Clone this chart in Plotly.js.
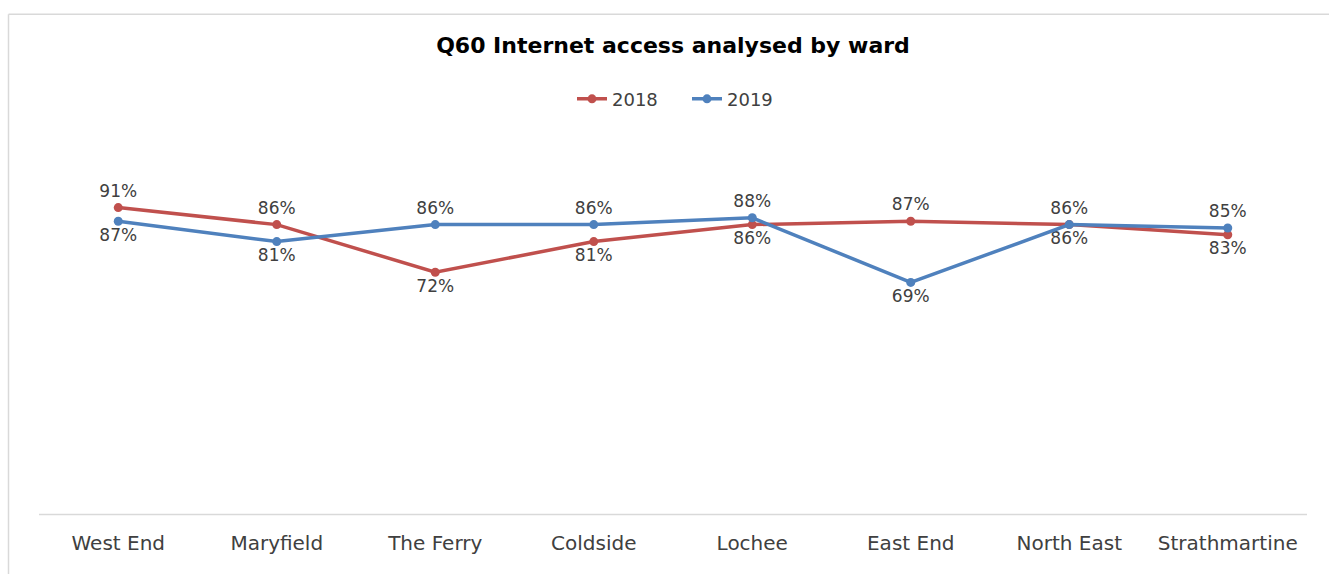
<!DOCTYPE html>
<html>
<head>
<meta charset="utf-8">
<script src="https://cdn.plot.ly/plotly-3.0.1.min.js"></script>
<style>
  html, body { margin: 0; padding: 0; background: #fff; }
  #chart { width: 1329px; height: 574px; }
</style>
</head>
<body>
<div id="chart"></div>
<script>
// ---- data ----
const titleText = 'Q60 Internet access analysed by ward';
const categories = ['West End', 'Maryfield', 'The Ferry', 'Coldside', 'Lochee', 'East End', 'North East', 'Strathmartine'];
const seriesNames = ['2018', '2019'];
const values2018 = [91, 86, 72, 81, 86, 87, 86, 83];
const values2019 = [87, 81, 86, 86, 88, 69, 86, 85];

// ---- layout geometry (pixels) ----
const W = 1329, H = 574;
const plotLeft = 39, plotRight = 1307, plotTop = 177, plotBottom = 517.5;
const axisLineY = 515;
const px2x = p => (p - plotLeft) / (plotRight - plotLeft);
const px2y = p => (plotBottom - p) / (plotBottom - plotTop);

const FONT = 'DejaVu Sans, Verdana, sans-serif';
const red = '#C0504D', blue = '#4F81BD';
const gridGray = '#D9D9D9';

// label above the higher series, below the lower one
const pos2018 = values2018.map((v, i) => v > values2019[i] ? 'top center' : 'bottom center');
const pos2019 = values2019.map((v, i) => v >= values2018[i] ? 'top center' : 'bottom center');

function trace(name, vals, color, pos) {
  return {
    type: 'scatter', mode: 'lines+markers+text', name: name,
    x: categories, y: vals,
    text: vals.map(v => v + '%'),
    textposition: pos,
    textfont: { family: FONT, size: 17, color: '#404040' },
    line: { color: color, width: 3.5 },
    marker: { color: color, size: 9, symbol: 'circle' },
    cliponaxis: false,
    hoverinfo: 'x+y'
  };
}

const data = [
  trace(seriesNames[0], values2018, red, pos2018),
  trace(seriesNames[1], values2019, blue, pos2019)
];

const layout = {
  width: W, height: H,
  margin: { l: plotLeft, r: W - plotRight, t: plotTop, b: H - plotBottom, pad: 0 },
  paper_bgcolor: '#fff', plot_bgcolor: '#fff',
  font: { family: FONT, color: '#404040' },
  title: {
    text: '<b>' + titleText + '</b>',
    font: { family: FONT, size: 22, color: '#000' },
    x: 0.5, xref: 'paper', xanchor: 'center',
    y: 1 - 45 / H, yref: 'container', yanchor: 'middle'
  },
  showlegend: true,
  legend: {
    orientation: 'h', x: px2x(687), xanchor: 'center',
    y: px2y(99), yanchor: 'middle',
    font: { family: FONT, size: 18, color: '#404040' },
    bgcolor: 'rgba(0,0,0,0)', itemwidth: 30, traceorder: 'normal',
    entrywidth: 70, entrywidthmode: 'pixels'
  },
  xaxis: {
    type: 'category', range: [-0.5, categories.length - 0.5],
    showline: false,
    ticks: '', showgrid: false, zeroline: false,
    tickfont: { family: FONT, size: 20, color: '#404040' },
    ticklabelstandoff: 12, fixedrange: true
  },
  yaxis: {
    range: [0, 100], visible: false, showgrid: false, zeroline: false, fixedrange: true
  },
  shapes: [
    { type: 'line', xref: 'paper', yref: 'paper', x0: 0, x1: 1, y0: px2y(axisLineY), y1: px2y(axisLineY),
      line: { color: gridGray, width: 1.5 }, layer: 'below' },
    { type: 'line', xref: 'paper', yref: 'paper', x0: px2x(8.5), x1: px2x(8.5), y0: px2y(14), y1: px2y(600),
      line: { color: gridGray, width: 1.5 }, layer: 'below' },
    { type: 'line', xref: 'paper', yref: 'paper', x0: px2x(8.5), x1: px2x(1350), y0: px2y(14), y1: px2y(14),
      line: { color: gridGray, width: 1.5 }, layer: 'below' }
  ]
};

Plotly.newPlot('chart', data, layout, { displayModeBar: false, staticPlot: true });
</script>
</body>
</html>
